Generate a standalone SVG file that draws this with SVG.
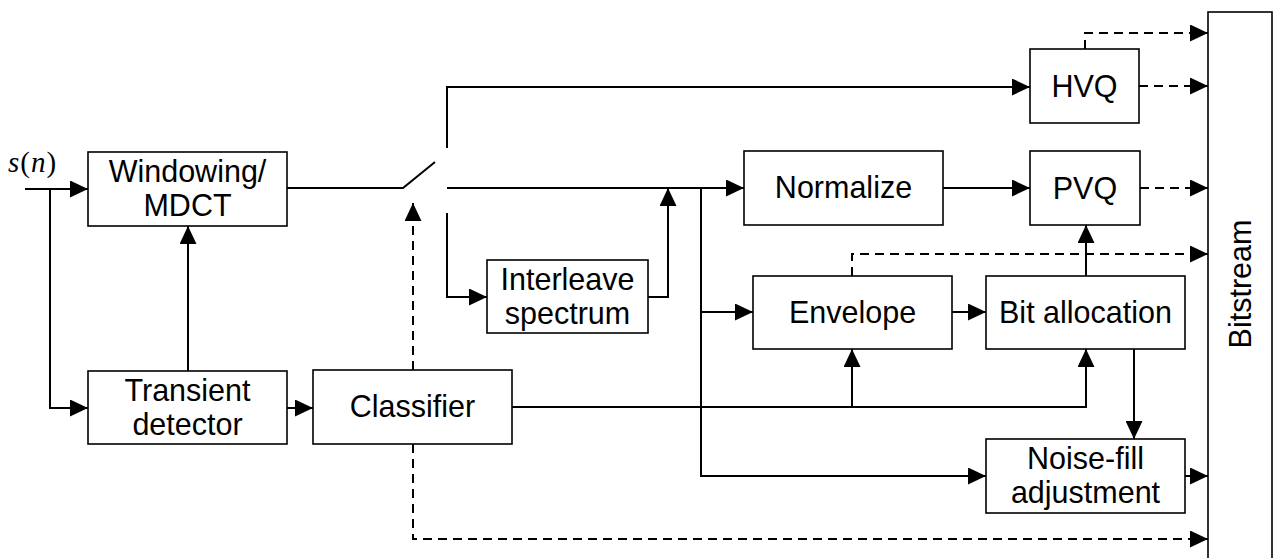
<svg xmlns="http://www.w3.org/2000/svg" width="1273" height="558" viewBox="0 0 1273 558">
<defs>
<marker id="arr" markerWidth="18" markerHeight="17" refX="18" refY="8.5" orient="auto" markerUnits="userSpaceOnUse">
<path d="M0,0 L18,8.5 L0,17 Z" fill="#000"/>
</marker>
<style>
.box{fill:#fff;stroke:#000;stroke-width:1.6}
.t{font-family:"Liberation Sans",Arial,sans-serif;font-size:30.5px;fill:#000;text-anchor:middle}
.c{fill:none;stroke:#000;stroke-width:2}
.a{marker-end:url(#arr)}
.d{stroke-dasharray:9 6}
</style>
</defs>
<rect width="1273" height="558" fill="#fff"/>

<g id="connectors">
<path class="c a" d="M25,189 H88"/>
<path class="c a" d="M50,189 V408 H88"/>
<path class="c a" d="M188,371 V226"/>
<path class="c a" d="M287,408 H313"/>
<path class="c" d="M287,188 H403 L435,162"/>
<path class="c a" d="M447,148 V87 H1030"/>
<path class="c a" d="M447,188 H744"/>
<path class="c a" d="M447,213 V297 H487"/>
<path class="c a" d="M648,297 H668 V188"/>
<path class="c a" d="M701,188 V312 H753"/>
<path class="c a" d="M701,312 V476 H986"/>
<path class="c a" d="M943,188 H1030"/>
<path class="c a" d="M952,312 H986"/>
<path class="c a" d="M512,407 H1086 V349"/>
<path class="c a" d="M852,407 V349"/>
<path class="c a" d="M1086,276 V225"/>
<path class="c a" d="M1134,349 V439"/>
<path class="c a" d="M1185,476 H1208"/>
<path class="c a d" d="M413,370 V203"/>
<path class="c a d" d="M413,444 V539 H1208"/>
<path class="c a d" d="M1085,49 V33 H1208"/>
<path class="c a d" d="M1139,86 H1208"/>
<path class="c a d" d="M1140,188 H1208"/>
<path class="c a d" d="M852,276 V254 H1208"/>
</g>

<text x="8" y="172" font-family="'Liberation Serif','Times New Roman',serif" font-size="29" letter-spacing="1" fill="#000"><tspan font-style="italic">s</tspan>(<tspan font-style="italic">n</tspan>)</text>

<g id="windowing">
<rect class="box" x="88" y="152" width="199" height="74"/>
<text class="t" x="187.5" y="182">Windowing/</text>
<text class="t" x="187.5" y="216">MDCT</text>
</g>
<g id="transient">
<rect class="box" x="88" y="371" width="199" height="73"/>
<text class="t" x="187.5" y="401">Transient</text>
<text class="t" x="187.5" y="435">detector</text>
</g>
<g id="classifier">
<rect class="box" x="313" y="370" width="199" height="74"/>
<text class="t" x="412.5" y="417">Classifier</text>
</g>
<g id="interleave">
<rect class="box" x="487" y="260" width="161" height="73"/>
<text class="t" x="567.5" y="290">Interleave</text>
<text class="t" x="567.5" y="324">spectrum</text>
</g>
<g id="normalize">
<rect class="box" x="744" y="151" width="199" height="74"/>
<text class="t" x="843.5" y="198">Normalize</text>
</g>
<g id="envelope">
<rect class="box" x="753" y="276" width="199" height="73"/>
<text class="t" x="852.5" y="323">Envelope</text>
</g>
<g id="hvq">
<rect class="box" x="1030" y="49" width="109" height="74"/>
<text class="t" x="1084.5" y="97">HVQ</text>
</g>
<g id="pvq">
<rect class="box" x="1030" y="151" width="110" height="74"/>
<text class="t" x="1085" y="199">PVQ</text>
</g>
<g id="bitalloc">
<rect class="box" x="986" y="276" width="199" height="73"/>
<text class="t" x="1085.5" y="323">Bit allocation</text>
</g>
<g id="noisefill">
<rect class="box" x="986" y="439" width="199" height="74"/>
<text class="t" x="1085.5" y="469">Noise-fill</text>
<text class="t" x="1085.5" y="503">adjustment</text>
</g>
<g id="bitstream">
<rect class="box" x="1208" y="12" width="64" height="560"/>
<text class="t" transform="translate(1251,284) rotate(-90)">Bitstream</text>
</g>
</svg>
